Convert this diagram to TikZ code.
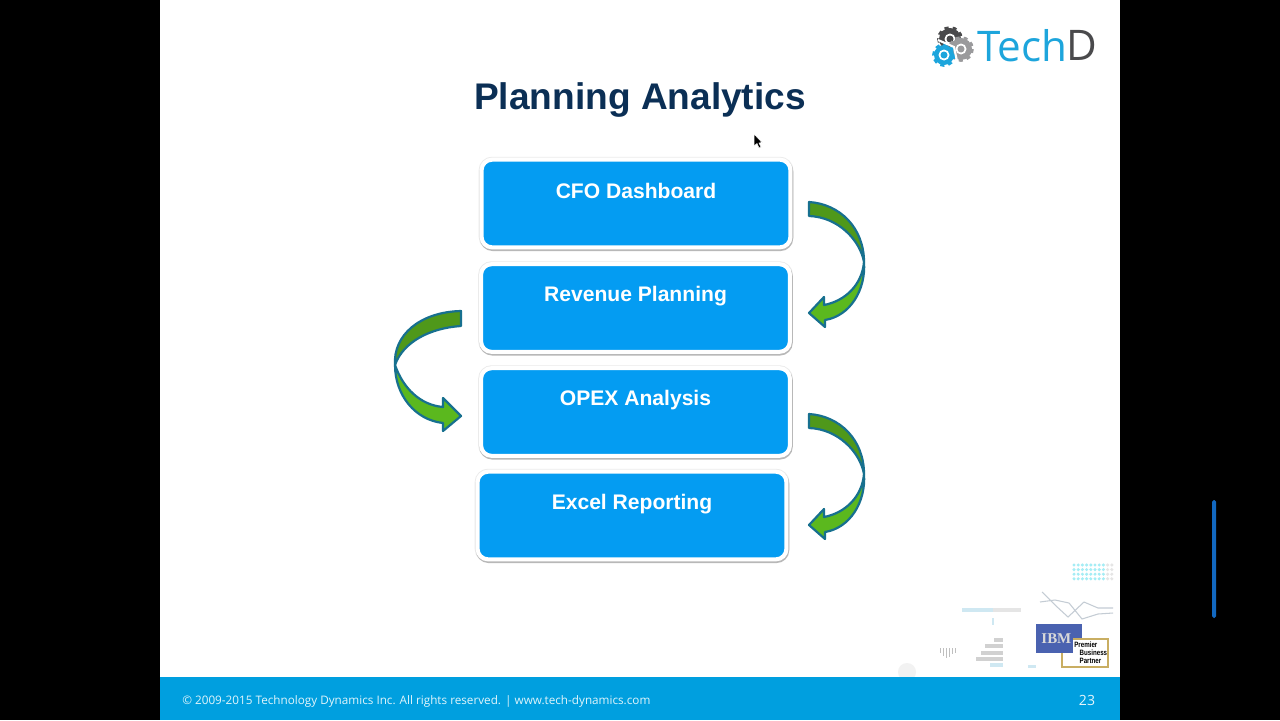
\documentclass[tikz,border=0pt]{standalone}
\usepackage{fontspec}
\setmainfont{Liberation Sans}
\newfontfamily\footfont{Open Sans}
\newfontfamily\ibmfont{Liberation Serif}
\definecolor{slideblue}{HTML}{009FDF}
\definecolor{boxblue}{HTML}{049CF2}
\definecolor{titlenavy}{HTML}{0B2F55}
\definecolor{arrowedge}{HTML}{17708F}
\definecolor{arrowdark}{HTML}{4F981A}
\definecolor{arrowlight}{HTML}{5BB81E}
\definecolor{logoblue}{HTML}{1DA5DC}
\definecolor{logodark}{HTML}{4A4A4C}
\definecolor{logogray}{HTML}{9A9A9C}
\definecolor{ibmblue}{HTML}{4A62B0}
\definecolor{partnergold}{HTML}{C9AE62}
\definecolor{faintline}{HTML}{C4CCD4}
\definecolor{faintblue}{HTML}{CFE8F2}
\definecolor{scrollblue}{HTML}{1268C0}
\tikzset{
	stagebox/.style={shape=rectangle, rounded corners=6pt,
		draw=white, line width=2.3pt, fill=boxblue,
		minimum width=175.8pt, inner sep=0pt,
		text height=21.5pt, text depth=28.4pt,
		text=white, font=\fontsize{12}{14}\selectfont\bfseries,
		preaction={draw=black!8, line width=3.3pt},
		preaction={draw=black!28, line width=2.6pt, transform canvas={xshift=0.3pt, yshift=-0.8pt}}},
	arrowpart/.style={draw=arrowedge, line width=1.25pt, line join=round},
	gearpart/.style={line width=2.1pt, dash pattern=on 2.2pt off 2.2pt},
	pics/rightarrow/.style={code={
		\draw [arrowpart, fill=arrowlight] (55,60) .. controls (57,88) and (41,114) .. (16,118)
			-- (16,125) -- (0,111) -- (15,95) -- (15,103)
			.. controls (36,99) and (53,83) .. (55,60) -- cycle;
		\draw [arrowpart, fill=arrowdark] (0,0) -- (0,14)
			.. controls (29,15) and (51,38) .. (55,60)
			.. controls (55,26) and (31,2) .. (0,0) -- cycle;
	}},
	pics/leftarrow/.style={code={
		\draw [arrowpart, fill=arrowlight] (395,365) .. controls (395,395) and (415,420) .. (443,423)
			-- (443,431) -- (461,416) -- (443,398) -- (443,407)
			.. controls (420,405) and (403,388) .. (395,365) -- cycle;
		\draw [arrowpart, fill=arrowdark] (461,311) -- (461,326)
			.. controls (430,328) and (403,342) .. (395,365)
			.. controls (393,335) and (420,312) .. (461,311) -- cycle;
	}}
}
\begin{document}
\begin{tikzpicture}[x=0.02cm, y=-0.02cm]
	\useasboundingbox (0,0) rectangle (1280,720);
	\fill[black] (0,0) rectangle (1280,720);
	\fill[white] (160,0) rectangle (1120,677);
	\fill[scrollblue, rounded corners=1pt] (1212,500) rectangle (1216,618);

	% title and stages
	\draw (640,100) node[text=titlenavy, font=\fontsize{21.1}{24}\selectfont\bfseries](title){Planning Analytics};
	\draw (636,203.5) node[stagebox, text height=22pt, text depth=27.9pt](cfo){CFO Dashboard};
	\draw (635.5,308) node[stagebox, text height=21pt, text depth=28.9pt](revenue){Revenue Planning};
	\draw (635.5,412) node[stagebox, text height=21pt, text depth=28.9pt](opex){OPEX Analysis};
	\draw (632,515.5) node[stagebox](excel){Excel Reporting};

	% curved arrows
	\pic at (809,202) {rightarrow};
	\pic at (0,0) {leftarrow};
	\pic at (809,414) {rightarrow};

	% mouse pointer
	\draw[fill=black, draw=white, line width=0.3pt] (754,134) -- (754,146) -- (757,143.5) -- (759,148) -- (761,147) -- (759,143) -- (762,142.5) -- cycle;

	% logo
	\foreach \gx/\gy/\gr/\gc in {950/39/11/logodark, 961/49/11/logogray, 944/55/10/logoblue}{
		\draw[gearpart, draw=\gc] (\gx,\gy) circle (\gr);
		\fill[\gc] (\gx,\gy) circle (\gr);
		\fill[white] (\gx,\gy) circle (5.5);
		\fill[\gc] (\gx,\gy) circle (3.5);
	}
	\draw[white, line width=1.2pt] (938,40) -- (954,47) -- (958,66);
	\draw (977,45.5) node[anchor=west, inner sep=0pt, text=logoblue, font=\footfont\fontsize{24}{26}\selectfont](logotech){Tech};
	\draw (logotech.east) node[anchor=west, inner sep=0pt, xshift=-1pt, text=logodark, font=\footfont\fontsize{24}{26}\selectfont](logod){D};

	% faint chart decoration
	\foreach \i in {0,...,7}{
		\foreach \j in {0,...,3}{
			\fill[faintblue!80!cyan] (1074+\i*4.2,565+\j*4.6) circle (1.7);
		}
	}
	\foreach \i in {8,9}{
		\foreach \j in {0,...,3}{
			\fill[black!10] (1074+\i*4.2,565+\j*4.6) circle (1.7);
		}
	}
	\draw[faintline, line width=0.6pt] (1042,592) -- (1055,605) -- (1068,617) -- (1084,602) -- (1098,608) -- (1113,608);
	\draw[faintline, line width=0.6pt] (1040,602) -- (1055,600) -- (1069,603) -- (1082,619) -- (1098,614) -- (1113,613);
	\fill[faintblue] (962,608) rectangle (993,612);
	\fill[black!10] (993,608) rectangle (1021,612);
	\fill[faintblue] (992,618) rectangle (994,625);
	\foreach \by/\bw in {640/9, 646/18, 653/22, 659/27}{
		\fill[black!18] (1003-\bw,\by-2) rectangle (1003,\by+2);
	}
	\fill[faintblue] (990,663) rectangle (1003,667);
	\foreach \vx/\vh in {940/5, 943/8, 946/10, 949/9, 952/6, 955/5}{
		\fill[black!25] (\vx,648) rectangle (\vx+1,648+\vh);
	}
	\fill[faintblue] (1028,665) rectangle (1036,668);
	\fill[black!5] (907,672) circle (9);

	% footer
	\fill[slideblue] (160,677) rectangle (1120,720);
	\draw (182,701.5) node[anchor=west, inner sep=0pt, text=white!88!slideblue, font=\footfont\fontsize{6.67}{8}\selectfont](copyright){© 2009-2015 Technology Dynamics Inc. All rights reserved. | www.tech-dynamics.com};
	\draw (1087,700.5) node[text=white!90!slideblue, font=\footfont\fontsize{8}{9}\selectfont](pagenum){23};

	% partner badge
	\draw (1059,638.5) node[fill=ibmblue, minimum width=26pt, minimum height=16.5pt, inner sep=0pt, text=black!15,
		font=\ibmfont\bfseries\fontsize{8.5}{9}\selectfont](ibm){\hspace{-3pt}IBM\hspace{3pt}};
	\fill[white] (1062,653) rectangle (1082,667);
	\fill[white] (1073,640) rectangle (1108,667);
	\draw[partnergold, line width=0.6pt] (1062,653) -- (1062,667) -- (1108,667) -- (1108,639) -- (1073,639);
	\draw (1074,653) node[anchor=west, inner sep=0pt, align=left,
		font=\bfseries\fontsize{4.4}{4.5}\selectfont](partner){\scalebox{0.8}[1]{Premier}\\\hspace{3pt}\scalebox{0.8}[1]{Business}\\\hspace{3pt}\scalebox{0.8}[1]{Partner}};
\end{tikzpicture}
\end{document}
